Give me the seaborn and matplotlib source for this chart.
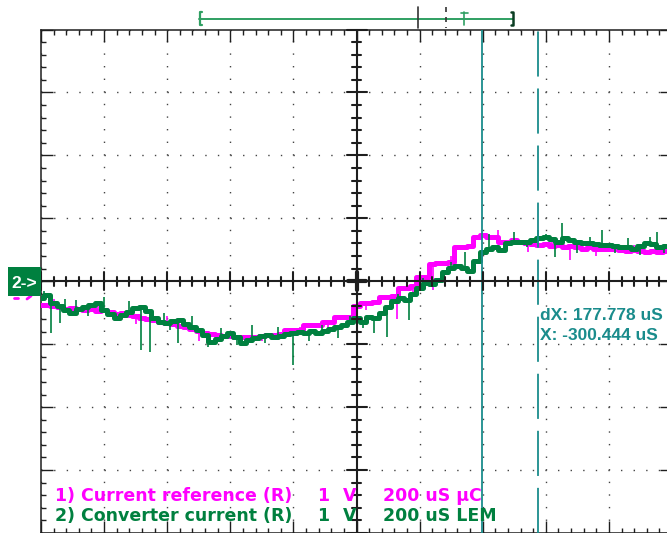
import numpy as np
import matplotlib
matplotlib.use("Agg")
import matplotlib.pyplot as plt
import seaborn as sns

# sample times (us), 200 us/div, 10 divisions
time_us = np.arange(-1000, 1000, 20)

# channel 1: current reference (V)
reference_v = [
    -0.38, -0.37, -0.40, -0.41, -0.44, -0.43, -0.44, -0.46, -0.44, -0.48,
    -0.46, -0.49, -0.52, -0.51, -0.54, -0.56, -0.59, -0.60, -0.62, -0.65,
    -0.67, -0.68, -0.71, -0.73, -0.76, -0.79, -0.83, -0.84, -0.86, -0.87,
    -0.87, -0.89, -0.89, -0.89, -0.89, -0.87, -0.86, -0.86, -0.84, -0.78,
    -0.78, -0.78, -0.70, -0.70, -0.70, -0.65, -0.65, -0.57, -0.57, -0.57,
    -0.40, -0.35, -0.35, -0.33, -0.25, -0.25, -0.24, -0.10, -0.10, -0.08,
    0.06, 0.06, 0.27, 0.29, 0.29, 0.30, 0.54, 0.54, 0.56, 0.71,
    0.73, 0.71, 0.70, 0.63, 0.63, 0.65, 0.62, 0.60, 0.59, 0.57,
    0.59, 0.56, 0.57, 0.54, 0.56, 0.54, 0.52, 0.54, 0.52, 0.51,
    0.52, 0.51, 0.49, 0.48, 0.49, 0.48, 0.46, 0.48, 0.46, 0.48,
]

# channel 2: converter current (V)
converter_v = [
    -0.27, -0.22, -0.35, -0.40, -0.46, -0.51, -0.44, -0.41, -0.37, -0.35,
    -0.46, -0.52, -0.59, -0.54, -0.49, -0.43, -0.41, -0.48, -0.59, -0.65,
    -0.67, -0.63, -0.62, -0.68, -0.73, -0.78, -0.86, -0.97, -0.92, -0.87,
    -0.83, -0.89, -0.98, -0.94, -0.90, -0.87, -0.86, -0.89, -0.87, -0.84,
    -0.83, -0.81, -0.83, -0.79, -0.83, -0.79, -0.76, -0.73, -0.70, -0.65,
    -0.59, -0.65, -0.57, -0.59, -0.51, -0.41, -0.32, -0.27, -0.30, -0.21,
    -0.11, -0.03, -0.05, 0.02, 0.14, 0.21, 0.25, 0.21, 0.17, 0.32,
    0.46, 0.52, 0.54, 0.49, 0.60, 0.62, 0.63, 0.62, 0.65, 0.68,
    0.70, 0.67, 0.62, 0.68, 0.65, 0.63, 0.60, 0.60, 0.59, 0.57,
    0.57, 0.56, 0.54, 0.54, 0.52, 0.56, 0.60, 0.59, 0.54, 0.56,
]

# glitches on the traces: (time us, tip V)
converter_spike_t = [-990, -969, -940, -925, -890, -850, -800, -760, -720, -683,
                     -654, -610, -590, -565, -520, -470, -430, -380, -330, -290,
                     -250, -200, -150, -110, -60, -20, 20, 54, 98, 130,
                     165, 210, 260, 300, 343, 380, 420, 470, 500, 540,
                     575, 600, 629, 651, 700, 740, 778, 820, 860, 900,
                     930, 952, 975]
converter_spike_v = [-0.15, -0.83, -0.67, -0.28, -0.30, -0.55, -0.25, -0.60, -0.32, -1.10,
                     -1.13, -0.50, -0.78, -0.98, -0.55, -1.05, -0.75, -1.02, -0.70, -0.98,
                     -0.72, -1.33, -0.95, -0.70, -0.90, -0.55, -0.75, -0.83, -0.89, -0.20,
                     -0.62, 0.05, 0.05, 0.30, 0.46, 0.35, 0.75, 0.48, 0.78, 0.55,
                     0.81, 0.75, 0.38, 0.92, 0.45, 0.70, 0.81, 0.45, 0.68, 0.42,
                     0.70, 0.78, 0.45]
reference_spike_t = [-960, -900, -820, -700, -600, -500, -400, -300, -180, -90,
                     30, 127, 180, 241, 300, 450, 543, 620, 676, 760, 880]
reference_spike_v = [-0.28, -0.52, -0.35, -0.68, -0.55, -0.95, -0.80, -0.95, -0.72, -0.78,
                     -0.45, -0.60, -0.18, -0.14, 0.40, 0.82, 0.46, 0.68, 0.33, 0.40, 0.58]

cursor_t = [397.8, 575.6]
cursor_text = ["dX: 177.778 uS", "X: -300.444 uS"]

ch_names = ["1) Current reference (R)", "2) Converter current (R)"]
ch_scale = ["1", "1"]
ch_units = ["V", "V"]
ch_time = ["200 uS \u00b5C", "200 uS LEM"]

MAGENTA = "#ff00ff"
GREEN = "#00803f"
TEAL = "#1a8c8c"
FRAME = "#1e1e1e"

sns.set_style("white")
plt.rcParams["font.family"] = ["DejaVu Sans"]

W, H = 667, 533
fig = plt.figure(figsize=(W / 100, H / 100), dpi=100)

# main graticule: 10 x 8 divisions, partly off the right edge
X0, Y1, GW, GH = 41, 533, 631, 503.5
pos = [X0 / W, 0, GW / W, GH / H]
ax = fig.add_axes(pos)
ax.set_xlim(-1000, 1000)
ax.set_ylim(-4, 4)
ax.set_facecolor("white")
for s in ax.spines.values():
    s.set_color(FRAME)
    s.set_linewidth(1.1)
ax.set_xticks(np.arange(-1000, 1001, 200))
ax.set_xticks(np.arange(-1000, 1001, 40), minor=True)
ax.set_yticks(np.arange(-4, 5, 1))
ax.set_yticks(np.arange(-4, 4.01, 0.2), minor=True)
ax.tick_params(which="both", direction="in", top=True, right=True, bottom=True, left=True,
               labelbottom=False, labelleft=False, color=FRAME, width=1)
ax.tick_params(which="major", length=8.6)
ax.tick_params(which="minor", length=3.6)
ax.grid(which="major", color="#444444", linestyle=(0, (1.0, 8.07)), linewidth=1)

# traces
sns.lineplot(x=time_us, y=reference_v, ax=ax, color=MAGENTA, linewidth=3.6,
             drawstyle="steps-mid", estimator=None, zorder=3)
ref_base = [reference_v[int(round((t + 1000) / 20))] for t in reference_spike_t]
ax.vlines(reference_spike_t, ref_base, reference_spike_v, color=MAGENTA, lw=1.2, zorder=3)

sns.lineplot(x=time_us, y=converter_v, ax=ax, color=GREEN, linewidth=3.6,
             drawstyle="steps-mid", estimator=None, zorder=4)
conv_base = [converter_v[int(round((t + 1000) / 20))] for t in converter_spike_t]
ax.vlines(converter_spike_t, conv_base, converter_spike_v, color=GREEN, lw=1.2, zorder=4)

# cursors
ax.axvline(cursor_t[0], color=TEAL, lw=1.3, zorder=5)
ax.axvline(cursor_t[1], color=TEAL, lw=1.3, linestyle=(0, (25, 6.6)), zorder=5)
ax.set_xlabel("")
ax.set_ylabel("")

# screen overlay in pixel coordinates
ov = fig.add_axes([0, 0, 1, 1])
ov.set_xlim(0, W)
ov.set_ylim(H, 0)
ov.axis("off")

# centre cross with its tick marks, drawn in screen pixels
cx, cy = X0 + GW / 2, Y1 - GH / 2
dx, dy = GW / 10, GH / 8
ov.plot([X0, X0 + GW], [cy, cy], color=FRAME, lw=1.5, zorder=1)
ov.plot([cx, cx], [Y1 - GH, Y1], color=FRAME, lw=1.5, zorder=1)
for k in range(-25, 26):
    x = cx + k * dx / 5
    h = 9 if k % 5 == 0 else 4.5
    ov.plot([x, x], [cy - h, cy + h], color=FRAME, lw=1.5, zorder=1)
for k in range(-20, 21):
    y = cy + k * dy / 5
    h = 10 if k % 5 == 0 else 4.5
    ov.plot([cx - h, cx + h], [y, y], color=FRAME, lw=1.5, zorder=1)
ov.plot([cx - 9, cx + 9], [cy, cy], color=FRAME, lw=3, zorder=1)
ov.plot([cx, cx], [cy - 9, cy + 9], color=FRAME, lw=3, zorder=1)

# memory bar at the top
BAR = "#2f9f62"
ov.plot([199, 513], [18.5, 18.5], color=BAR, lw=1.4)
ov.plot([201.5, 199.5, 199.5, 201.5], [12, 12, 25, 25], color=BAR, lw=1.6)
ov.plot([511, 513, 513, 511], [12, 12, 25, 25], color="#0b3d22", lw=1.8)
ov.plot([418, 418], [7, 28], color="#333333", lw=1.2)
ov.plot([446, 446], [7, 28], color="#333333", lw=1.2, linestyle=(0, (3, 3)))
ov.plot([464, 464], [12, 25], color=BAR, lw=1.2)
ov.plot([460.5, 467.5], [12.5, 12.5], color=BAR, lw=1.2)

# channel markers at the left (channel 1 marker mostly hidden behind channel 2)
ov.plot([14, 18], [298, 298], color=MAGENTA, lw=2)
ov.plot([27, 31], [299, 296], color=MAGENTA, lw=2)
ov.add_patch(plt.Rectangle((8, 267), 33, 29, facecolor=GREEN, edgecolor="none", zorder=2))
ov.text(24.5, 287.5, "2->", color="white", fontsize=12.5, fontweight="bold",
        family=["Liberation Sans", "DejaVu Sans"], ha="center", va="baseline", zorder=3)

# cursor readout
for i, txt in enumerate(cursor_text):
    ov.text(540, 320 + 19.5 * i, txt, color=TEAL, fontsize=12.5, fontweight="bold",
            family=["Liberation Sans", "DejaVu Sans"], va="baseline")

# channel legend
for i, col in enumerate([MAGENTA, GREEN]):
    y = 501 + 20 * i
    kw = dict(color=col, fontsize=12.5, fontweight="bold", va="baseline")
    ov.text(55, y, ch_names[i], **kw)
    ov.text(317.5, y, ch_scale[i], **kw)
    ov.text(342.5, y, ch_units[i], **kw)
    ov.text(383, y, ch_time[i], **kw)

fig.savefig("out.png", dpi=100)
